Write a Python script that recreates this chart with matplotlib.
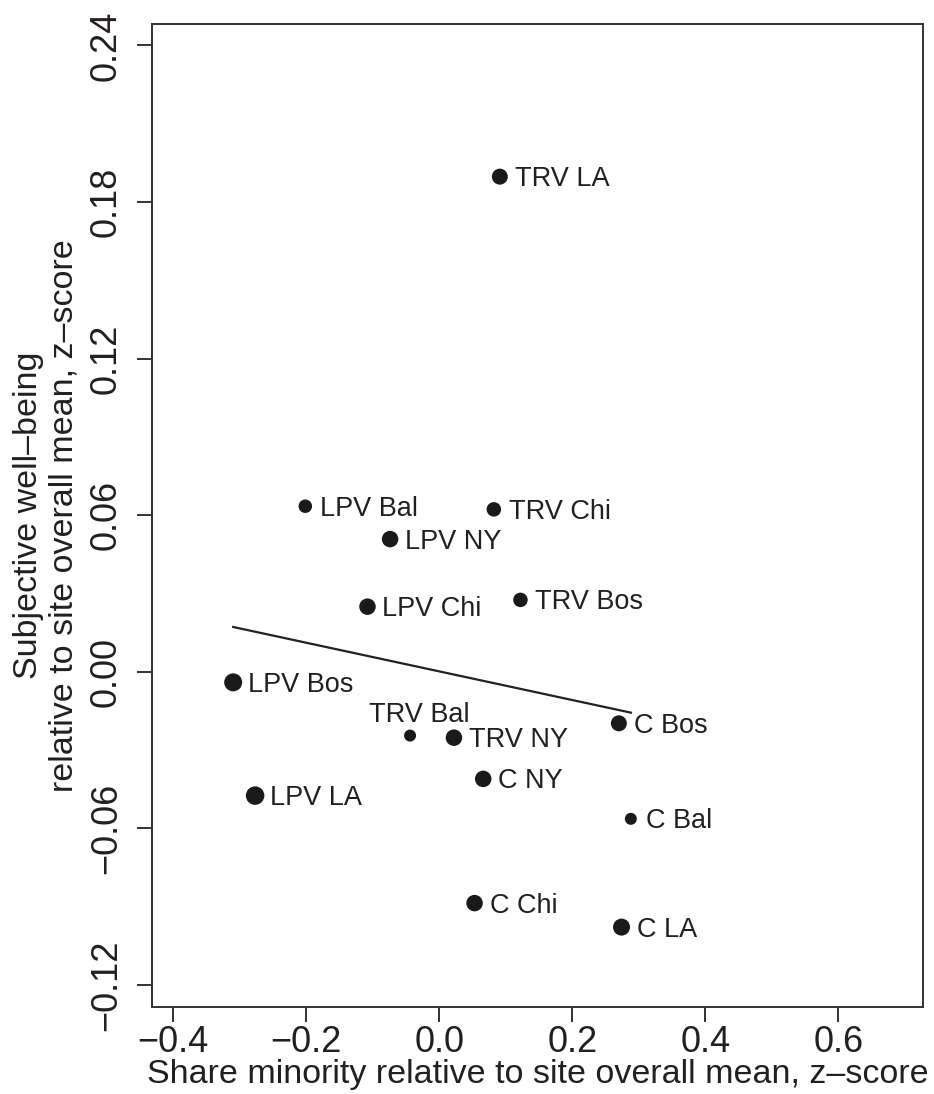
import numpy as np
import matplotlib
matplotlib.use("Agg")
import matplotlib.pyplot as plt
from matplotlib import font_manager

# Site/group means (z-scores)
labels = ["TRV LA", "LPV Bal", "TRV Chi", "LPV NY", "LPV Chi", "TRV Bos", "LPV Bos",
          "TRV Bal", "TRV NY", "C Bos", "C NY", "LPV LA", "C Bal", "C Chi", "C LA"]
share_minority = [0.091, -0.2015, 0.082, -0.074, -0.108, 0.122, -0.310,
                  -0.044, 0.022, 0.270, 0.066, -0.277, 0.288, 0.053, 0.274]
well_being = [0.1897, 0.0634, 0.0622, 0.0508, 0.0249, 0.0275, -0.0041,
              -0.0245, -0.0253, -0.0198, -0.0411, -0.0475, -0.0564, -0.0887, -0.0979]
# dot diameter in pixels (larger = more respondents)
dot_px = [16, 13.5, 14.5, 16.5, 16.5, 14.5, 18, 12, 16.5, 16, 16.5, 18.5, 12, 16.5, 17]

# fitted line
fit_intercept = 0.0001
fit_slope = -0.0549

xticks = [-0.4, -0.2, 0.0, 0.2, 0.4, 0.6]
yticks = [-0.12, -0.06, 0.00, 0.06, 0.12, 0.18, 0.24]

names = {f.name for f in font_manager.fontManager.ttflist}
narrow = "Liberation Sans Narrow" if "Liberation Sans Narrow" in names else "Liberation Sans"
plt.rcParams["font.family"] = ["Liberation Sans", "DejaVu Sans"]

ink = "#231f20"
W, H = 934, 1094
fig = plt.figure(figsize=(W / 100, H / 100), dpi=100)
ax = fig.add_axes([152.3 / W, 1 - 1006.7 / H, (923.3 - 152.3) / W, (1006.7 - 24) / H])

x = np.array(share_minority)
y = np.array(well_being)
s = (np.array(dot_px) * 0.72) ** 2
ax.scatter(x, y, s=s, color="#1a1a1a", linewidths=0, zorder=3)

xl = np.array([x.min(), x.max()])
ax.plot(xl, fit_intercept + fit_slope * xl, color="#222222", lw=1.6, zorder=2)

for lab, xi, yi in zip(labels, x, y):
    if lab == "TRV Bal":
        ax.annotate(lab, (xi, yi), xytext=(6.4, 10), textcoords="offset points",
                    ha="center", va="baseline", fontsize=19.5, color=ink)
    else:
        ax.annotate(lab, (xi, yi), xytext=(10.8, -6.9), textcoords="offset points",
                    ha="left", va="baseline", fontsize=19.5, color=ink)

ax.set_xlim(-0.4316, 0.7278)
ax.set_ylim(-0.1284, 0.2482)
ax.set_xticks(xticks)
ax.set_xticklabels(["\u2212" + f"{abs(v):.1f}" if v < 0 else f"{v:.1f}" for v in xticks])
ax.set_yticks(yticks)
ax.set_yticklabels(["\u2212" + f"{abs(v):.2f}" if v < 0 else f"{v:.2f}" for v in yticks])

for sp in ax.spines.values():
    sp.set_linewidth(1.4)
    sp.set_color("#333333")
ax.tick_params(length=10.5, width=1.4, color="#333333", labelsize=26, labelcolor=ink)
ax.tick_params(axis="x", pad=3)
ax.tick_params(axis="y", pad=10, labelrotation=90)
for t in ax.get_xticklabels() + ax.get_yticklabels():
    t.set_family(narrow)
for t in ax.get_yticklabels():
    t.set_va("center")

ax.set_xlabel("Share minority relative to site overall mean, z\u2013score",
              fontsize=24.5, color=ink, labelpad=-1)
ax.set_ylabel("Subjective well\u2013being\nrelative to site overall mean, z\u2013score",
              fontsize=24.5, color=ink, linespacing=1.15)
ax.yaxis.set_label_coords(-0.095, 0.5)

fig.savefig("out.png", dpi=100)
